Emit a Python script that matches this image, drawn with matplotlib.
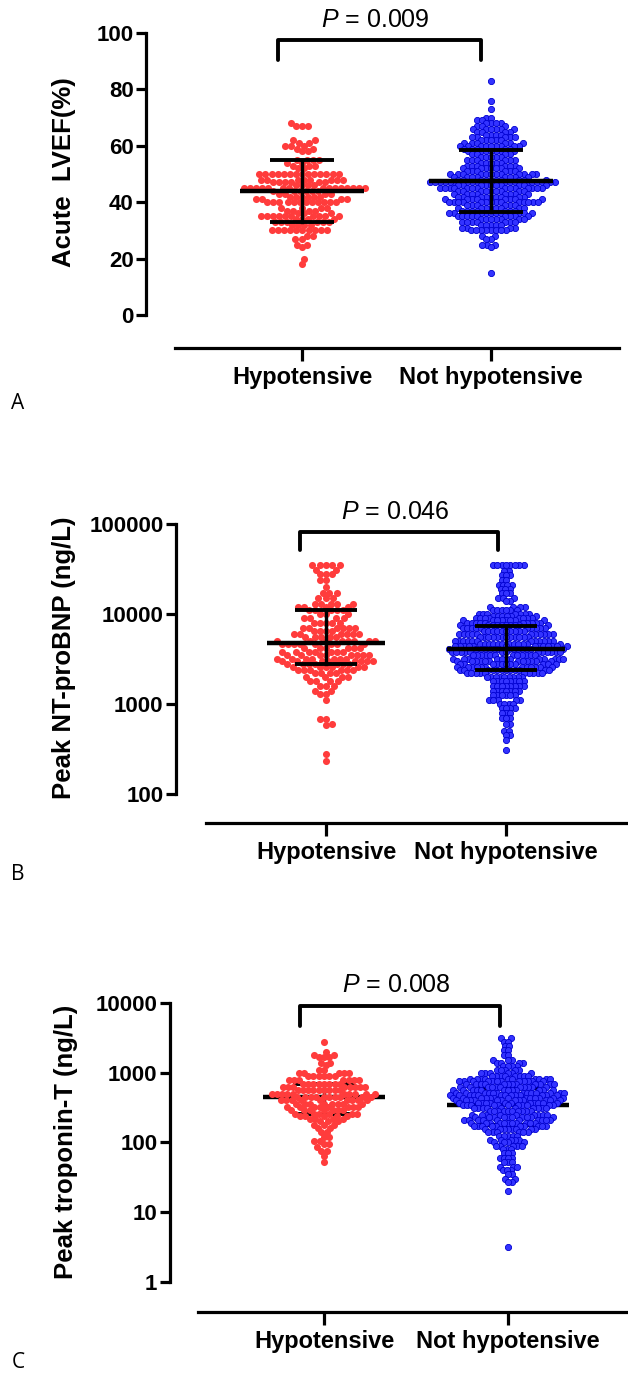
import numpy as np
import matplotlib
matplotlib.use('Agg')
import matplotlib.pyplot as plt
from matplotlib.ticker import NullLocator

plt.rcParams['font.family'] = ['Liberation Sans', 'DejaVu Sans']
plt.rcParams['mathtext.fontset'] = 'custom'
plt.rcParams['mathtext.it'] = 'Liberation Sans:italic'
plt.rcParams['mathtext.rm'] = 'Liberation Sans'

groups = ['Hypotensive', 'Not hypotensive']

# ---- A: acute LVEF (%) : value levels and number of patients at each level
lvef_hypo_vals = [68, 67, 62, 61, 60, 59, 58, 55, 54, 53, 52, 50, 48, 47, 46, 45, 44, 43, 42, 41,
                  40, 38, 37, 36, 35, 34, 33, 32, 30, 28, 27, 25, 24, 20, 18]
lvef_hypo_n = [1, 3, 2, 2, 3, 2, 2, 4, 2, 3, 2, 14, 8, 6, 4, 15, 6, 4, 6, 4,
               12, 4, 4, 3, 10, 4, 6, 4, 10, 2, 2, 2, 1, 1, 1]
lvef_not_vals = [83, 76, 73, 70, 69, 68, 67, 66, 65, 64, 63, 62, 61, 60, 59, 58, 57, 56, 55, 54,
                 53, 52, 51, 50, 49, 48, 47, 46, 45, 44, 43, 42, 41, 40, 39, 38, 37, 36, 35, 34,
                 33, 32, 31, 30, 28, 27, 25, 24, 15]
lvef_not_n = [1, 1, 1, 2, 2, 4, 3, 6, 4, 4, 5, 5, 6, 9, 5, 7, 4, 5, 6, 5,
              6, 7, 6, 12, 8, 10, 18, 10, 14, 9, 8, 9, 8, 14, 6, 8, 7, 10, 9, 7,
              7, 5, 4, 8, 2, 2, 3, 1, 1]
lvef_median = [44, 47.5]
lvef_q1 = [33, 36.5]
lvef_q3 = [55, 58.5]

# ---- B: peak NT-proBNP (ng/L)
bnp_hypo_vals = [35000, 31000, 28000, 24000, 20000, 17000, 15000, 13000, 12000, 11000, 10000,
                 9000, 8000, 7000, 6500, 6000, 5500, 5000, 4600, 4200, 3800, 3500, 3200, 3000,
                 2800, 2600, 2400, 2200, 2000, 1800, 1600, 1400, 1300, 1100, 680, 600, 580, 280, 230]
bnp_hypo_n = [5, 2, 3, 2, 1, 3, 3, 5, 4, 5, 3,
              4, 5, 6, 4, 6, 5, 8, 8, 6, 7, 8, 7, 8,
              7, 6, 6, 4, 4, 4, 3, 2, 2, 1, 2, 1, 1, 1, 1]
bnp_not_vals = [35000, 30000, 27000, 24000, 21000, 19000, 17000, 15000, 14000, 12000, 11000,
                10000, 9500, 9000, 8500, 8000, 7500, 7000, 6500, 6000, 5500, 5000, 4700, 4400,
                4100, 3800, 3500, 3200, 3000, 2800, 2600, 2400, 2200, 2000, 1800, 1600, 1400,
                1250, 1100, 1000, 900, 800, 700, 600, 500, 450, 400, 310]
bnp_not_n = [8, 2, 3, 2, 4, 3, 3, 3, 2, 4, 6,
             7, 6, 8, 8, 10, 10, 10, 10, 11, 12, 12, 12, 13,
             14, 13, 12, 12, 12, 11, 12, 12, 10, 9, 8, 8, 7,
             6, 5, 4, 4, 3, 3, 2, 2, 2, 1, 1]
bnp_median = [4800, 4100]
bnp_q1 = [2800, 2400]
bnp_q3 = [11000, 7300]

# ---- C: peak troponin-T (ng/L)
tnt_hypo_vals = [2800, 2000, 1800, 1700, 1400, 1300, 1100, 1000, 900, 800, 700, 620, 560, 500,
                 450, 400, 360, 320, 290, 260, 240, 220, 200, 180, 160, 140, 120, 105, 95, 85,
                 75, 65, 52]
tnt_hypo_n = [1, 1, 2, 3, 2, 1, 2, 5, 6, 7, 8, 8, 9, 10,
              10, 9, 8, 8, 7, 6, 5, 4, 3, 3, 2, 2, 2, 2, 2, 1,
              2, 1, 1]
tnt_not_vals = [3100, 2800, 2400, 2100, 1800, 1500, 1400, 1250, 1100, 1000, 900, 820, 750, 680,
                620, 570, 520, 480, 440, 400, 370, 340, 310, 280, 250, 230, 210, 190, 170, 155,
                140, 125, 110, 100, 90, 80, 70, 60, 52, 45, 40, 35, 30, 27, 20, 3.2]
tnt_not_n = [2, 2, 2, 2, 2, 3, 4, 4, 5, 6, 8, 10, 12, 12,
             11, 12, 13, 13, 13, 12, 12, 11, 10, 10, 9, 10, 10, 11, 10, 8,
             6, 5, 5, 4, 5, 3, 3, 4, 3, 3, 3, 2, 2, 2, 1, 1]
tnt_median = [450, 350]
tnt_q1 = [260, 180]
tnt_q3 = [700, 600]

W, H = 628, 1377
fig = plt.figure(figsize=(W / 100, H / 100), dpi=100)

RED = '#ff3c3c'
BLUE_FACE = '#3333ff'
BLUE_EDGE = '#0000d0'


def swarm(ypix, d):
    # simple beeswarm: place each point as close to the centre as it can go
    xs = np.zeros(len(ypix))
    px = np.array([])
    py = np.array([])
    for k, i in enumerate(np.argsort(ypix)):
        y = ypix[i]
        near = np.abs(py - y) < d
        nx, ny = px[near], py[near]
        dy = y - ny
        dx = np.sqrt(d * d - dy * dy)
        cands = np.concatenate([[0.0], nx + dx, nx - dx])
        side = 1 if k % 2 == 0 else -1
        key = np.abs(cands) + 1e-3 * (np.sign(cands) == side)
        c = 0.0
        for c in cands[np.argsort(key)]:
            if np.all((c - nx) ** 2 + dy ** 2 >= d * d - 1e-6):
                break
        xs[i] = c
        px = np.append(px, c)
        py = np.append(py, y)
    return xs


def panel(spine_x, top_y, line_y, line_x0, right_x, cat_px, ylim, yticks, ytlabels, log,
          data, spacing, med, q1, q3, ylabel, ylabel_xy, pval, bracket, letter, letter_y,
          lines_on_top):
    ax = fig.add_axes([spine_x / W, 1 - line_y / H, (right_x - spine_x) / W, (line_y - top_y) / H])
    ppu = cat_px[1] - cat_px[0]
    ax.set_xlim((spine_x - cat_px[0]) / ppu, (right_x - cat_px[0]) / ppu)
    if log:
        ax.set_yscale('log')
    ax.set_ylim(*ylim)
    ax.yaxis.set_minor_locator(NullLocator())
    ax.set_yticks(yticks)
    ax.set_yticklabels(ytlabels, fontsize=16, fontweight='bold')
    ax.set_xticks([0, 1])
    ax.set_xticklabels(groups, fontsize=17, fontweight='bold')
    for s in ['top', 'right']:
        ax.spines[s].set_visible(False)
    ax.spines['left'].set_linewidth(2.3)
    ax.spines['bottom'].set_linewidth(2.3)
    ax.spines['left'].set_bounds(yticks[0], yticks[-1])
    ax.spines['bottom'].set_bounds((line_x0 - cat_px[0]) / ppu, (right_x - cat_px[0]) / ppu)
    ax.tick_params(axis='y', length=7, width=2.3, pad=2)
    ax.tick_params(axis='x', length=9, width=2.3, pad=4)

    styles = [dict(s=26, color=RED, linewidths=0),
              dict(s=20, facecolor=BLUE_FACE, edgecolor=BLUE_EDGE, linewidths=0.6)]
    for g, (vals, counts) in enumerate(data):
        y = np.repeat(vals, counts).astype(float)
        ypix = ax.transData.transform(np.column_stack([np.zeros_like(y), y]))[:, 1]
        x = g + swarm(ypix, spacing[g]) / ppu
        ax.scatter(x, y, marker='o', zorder=2, clip_on=False, **styles[g])

    lz = 3 if lines_on_top else 1
    for g in range(2):
        ax.plot([g - 0.33, g + 0.33], [med[g], med[g]], color='black', lw=3.2, zorder=lz,
                solid_capstyle='butt')
        for q in (q1[g], q3[g]):
            ax.plot([g - 0.17, g + 0.17], [q, q], color='black', lw=2.8, zorder=lz,
                    solid_capstyle='butt')
        ax.plot([g, g], [q1[g], q3[g]], color='black', lw=2.4, zorder=lz)

    bx0, bx1, by_top, by_end, ty = bracket
    ax.plot([bx0, bx0, bx1, bx1], [by_end, by_top, by_top, by_end], color='black', lw=2.8,
            clip_on=False, solid_joinstyle='round', solid_capstyle='round')
    ax.text((bx0 + bx1) / 2 - 0.02, ty, pval, ha='center', va='center', fontsize=18,
            clip_on=False)

    fig.text(ylabel_xy[0] / W, 1 - ylabel_xy[1] / H, ylabel, rotation=90, ha='center',
             va='center', fontsize=18.5, fontweight='bold')
    fig.text(18 / W, 1 - letter_y / H, letter, ha='center', va='center', fontsize=15,
             family=['Open Sans', 'DejaVu Sans'])
    return ax


panel(146, 33, 348, 175, 619, (302, 491), (-11.7, 100), [0, 20, 40, 60, 80, 100],
      ['0', '20', '40', '60', '80', '100'], False,
      [(lvef_hypo_vals, lvef_hypo_n), (lvef_not_vals, lvef_not_n)], (6.0, 4.9),
      lvef_median, lvef_q1, lvef_q3, 'Acute  LVEF(%)', (64, 172), '$P$ = 0.009',
      (-0.127, 0.947, 97.5, 90.4, 104.5), 'A', 403, True)

panel(176, 524, 823, 206, 628, (326, 506), (47.6, 1e5), [100, 1000, 10000, 100000],
      ['100', '1000', '10000', '100000'], True,
      [(bnp_hypo_vals, bnp_hypo_n), (bnp_not_vals, bnp_not_n)], (6.0, 4.4),
      bnp_median, bnp_q1, bnp_q3, 'Peak NT-proBNP (ng/L)', (64, 658), '$P$ = 0.046',
      (-0.144, 0.956, 81500, 51400, 136000), 'B', 875, True)

panel(170, 1003, 1312, 198, 628, (324, 508), (0.371, 1e4), [1, 10, 100, 1000, 10000],
      ['1', '10', '100', '1000', '10000'], True,
      [(tnt_hypo_vals, tnt_hypo_n), (tnt_not_vals, tnt_not_n)], (5.3, 4.2),
      tnt_median, tnt_q1, tnt_q3, 'Peak troponin-T (ng/L)', (66, 1142), '$P$ = 0.008',
      (-0.13, 0.957, 9060, 4680, 18100), 'C', 1363, False)

fig.savefig('out.png', dpi=100)
